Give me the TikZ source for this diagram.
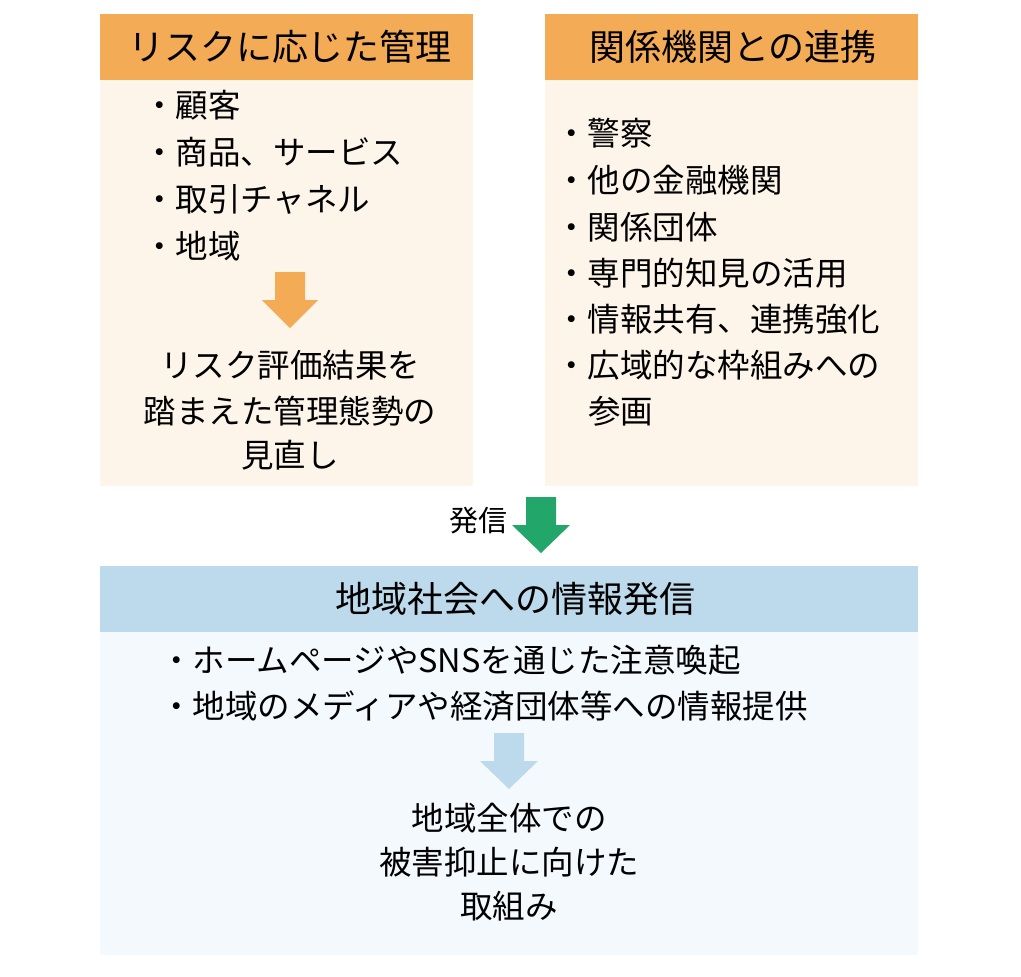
\documentclass[tikz,border=0pt]{standalone}
\usepackage{fontspec}
\setmainfont{Noto Sans CJK JP}
\definecolor{orH}{HTML}{F4AB55}
\definecolor{orB}{HTML}{FDF5EA}
\definecolor{blH}{HTML}{BDDAEC}
\definecolor{blB}{HTML}{F4F9FD}
\definecolor{gr}{HTML}{22A66A}
\definecolor{blA}{HTML}{BDDAEC}
\begin{document}
\begin{tikzpicture}[x=1pt,y=-1pt,
  head/.style={font=\fontsize{36}{40}\selectfont,anchor=center},
  item/.style={font=\fontsize{32.5}{36}\selectfont,anchor=west,inner sep=0},
  ctr/.style={font=\fontsize{32.5}{36}\selectfont,anchor=center,inner sep=0}]
\useasboundingbox (0,0) rectangle (1021,977);
% left
\fill[orB] (100,80) rectangle (473,486);
\fill[orH] (100,14) rectangle (473,80);
\node[head] (lh) at (290,47) {リスクに応じた管理};
\node[item] (l1) at (143,105) {・顧客};
\node[item] (l2) at (143,152) {・商品、サービス};
\node[item] (l3) at (143,199) {・取引チャネル};
\node[item] (l4) at (143,246) {・地域};
\fill[orH] (275,272) -- (305,272) -- (305,300) -- (318,300) -- (290,328) -- (262,300) -- (275,300) -- cycle;
\node[ctr] (lr1) at (290,365) {リスク評価結果を};
\node[ctr] (lr2) at (290,411) {踏まえた管理態勢の};
\node[ctr] (lr3) at (290,455) {見直し};
% right
\fill[orB] (545,80) rectangle (918,486);
\fill[orH] (545,14) rectangle (918,80);
\node[head] (rh) at (733,47) {関係機関との連携};
\node[item] (r1) at (555,133) {・警察};
\node[item] (r2) at (555,180) {・他の金融機関};
\node[item] (r3) at (555,227) {・関係団体};
\node[item] (r4) at (555,273) {・専門的知見の活用};
\node[item] (r5) at (555,319) {・情報共有、連携強化};
\node[item] (r6) at (555,365) {・広域的な枠組みへの};
\node[item] (r7) at (588,411) {参画};
% green arrow
\fill[gr] (526,497) -- (556,497) -- (556,525) -- (570,525) -- (541,553) -- (512,525) -- (526,525) -- cycle;
\node[font=\fontsize{29}{32}\selectfont] (ga) at (478,521) {発信};
% bottom
\fill[blB] (100,632) rectangle (918,955);
\fill[blH] (100,566) rectangle (918,632);
\node[head] (bh) at (515,599) {地域社会への情報発信};
\node[item] (b1) at (160,660) {・ホームページやSNSを通じた注意喚起};
\node[item] (b2) at (160,706) {・地域のメディアや経済団体等への情報提供};
\fill[blA] (494,733) -- (524,733) -- (524,761) -- (538,761) -- (509,789) -- (480,761) -- (494,761) -- cycle;
\node[ctr] (br1) at (509,818) {地域全体での};
\node[ctr] (br2) at (509,862) {被害抑止に向けた};
\node[ctr] (br3) at (509,906) {取組み};
\end{tikzpicture}
\end{document}
